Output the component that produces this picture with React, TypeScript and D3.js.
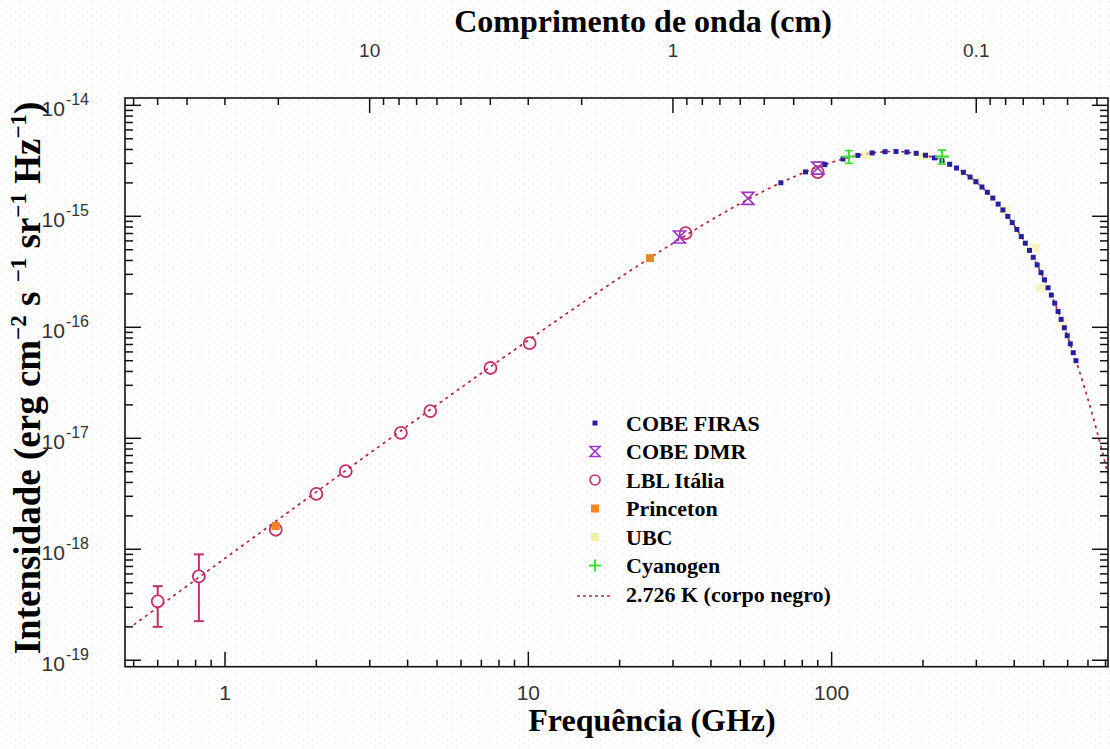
import React from 'react';
import * as d3 from 'd3';

// frequency in GHz, intensity in erg cm^-2 s^-1 sr^-1 Hz^-1
const firasFreq = [68, 82, 95, 109, 122, 136, 150, 163, 177, 190, 204, 218, 231, 245, 258, 272, 286, 299, 313, 326, 340, 354, 367, 381, 394, 408, 422, 435, 449, 462, 476, 490, 503, 517, 530, 544, 558, 571, 585, 598, 612, 626, 639];
const firasInt = [2.006e-15, 2.512e-15, 2.922e-15, 3.284e-15, 3.538e-15, 3.724e-15, 3.820e-15, 3.839e-15, 3.792e-15, 3.696e-15, 3.547e-15, 3.362e-15, 3.168e-15, 2.943e-15, 2.725e-15, 2.490e-15, 2.258e-15, 2.050e-15, 1.836e-15, 1.648e-15, 1.461e-15, 1.288e-15, 1.141e-15, 9.98e-16, 8.77e-16, 7.61e-16, 6.58e-16, 5.73e-16, 4.93e-16, 4.27e-16, 3.65e-16, 3.11e-16, 2.68e-16, 2.27e-16, 1.95e-16, 1.65e-16, 1.39e-16, 1.18e-16, 9.9e-17, 8.4e-17, 7.1e-17, 5.9e-17, 5.0e-17];

const dmrFreq = [31.5, 53, 90];
const dmrInt = [6.5e-16, 1.45e-15, 2.72e-15];

const lblFreq = [0.6, 0.82, 1.47, 2.0, 2.5, 3.8, 4.75, 7.5, 10.1, 33, 90];
const lblInt = [3.4e-19, 5.7e-19, 1.5e-18, 3.15e-18, 5.05e-18, 1.12e-17, 1.76e-17, 4.3e-17, 7.2e-17, 7.05e-16, 2.5e-15];
const lblLow = [2.0e-19, 2.25e-19, 1.5e-18, 3.15e-18, 5.05e-18, 1.12e-17, 1.76e-17, 4.3e-17, 7.2e-17, 7.05e-16, 2.5e-15];
const lblHigh = [4.65e-19, 9.0e-19, 1.5e-18, 3.15e-18, 5.05e-18, 1.12e-17, 1.76e-17, 4.3e-17, 7.2e-17, 7.05e-16, 2.5e-15];

const princetonFreq = [1.47, 25.2];
const princetonInt = [1.62e-18, 4.2e-16];

const ubcFreq = [130, 200, 300, 370, 468, 488, 580];
const ubcInt = [3.55e-15, 3.5e-15, 2.1e-15, 1.15e-15, 5.2e-16, 2.25e-16, 1.1e-16];

const cyanFreq = [114, 231];
const cyanInt = [3.45e-15, 3.45e-15];
const cyanErr = [4.5e-16, 5.0e-16];

// 2.726 K blackbody
const bbFreq = [0.5, 0.6, 0.8, 1, 1.5, 2, 3, 5, 7, 10, 15, 20, 30, 40, 50, 70, 100, 130, 160, 200, 250, 300, 350, 400, 450, 500, 550, 600, 650, 700, 750, 815];
const bbInt = [2.085e-19, 2.999e-19, 5.322e-19, 8.301e-19, 1.860e-18, 3.291e-18, 7.340e-18, 2.003e-17, 3.856e-17, 7.660e-17, 1.647e-16, 2.795e-16, 5.721e-16, 9.231e-16, 1.306e-15, 2.082e-15, 3.061e-15, 3.655e-15, 3.841e-15, 3.594e-15, 2.859e-15, 2.034e-15, 1.336e-15, 8.254e-16, 4.875e-16, 2.771e-16, 1.530e-16, 8.238e-17, 4.344e-17, 2.249e-17, 1.145e-17, 4.686e-18];

const freqLabels = [1, 10, 100];
const waveLabels = [10, 1, 0.1];
const yExponents = [-14, -15, -16, -17, -18, -19];

const legendItems = ['COBE FIRAS', 'COBE DMR', 'LBL Itália', 'Princeton', 'UBC', 'Cyanogen', '2.726 K (corpo negro)'];

const C_GHZ_CM = 29.9792458;

const serif = '"Liberation Serif", "Times New Roman", serif';
const sans = '"Liberation Sans", Arial, sans-serif';

const colors = {
  firas: '#24209e',
  dmr: '#9b36c8',
  lbl: '#c3306a',
  princeton: '#f08524',
  ubc: '#f3efa4',
  cyan: '#3ee03a',
  bb: '#b3283e',
};

function Hourglass({ x, y, s = 6 }: { x: number; y: number; s?: number }) {
  return (
    <path
      d={`M${x - s},${y - s}H${x + s}L${x - s},${y + s}H${x + s}Z`}
      fill="none"
      stroke={colors.dmr}
      strokeWidth={1.6}
    />
  );
}

function Plus({ x, y, s = 7 }: { x: number; y: number; s?: number }) {
  return (
    <path d={`M${x - s},${y}H${x + s}M${x},${y - s}V${y + s}`} stroke={colors.cyan} strokeWidth={2.2} />
  );
}

export default function App() {
  const left = 125, right = 1108, top = 98, bottom = 666.7;

  const x = d3.scaleLog().domain([0.468, 815]).range([left, right]);
  const y = d3.scaleLog().domain([8.75e-20, 1.164e-14]).range([bottom, top]);
  const lam = d3.scaleLog().domain([C_GHZ_CM / 0.468, C_GHZ_CM / 815]).range([left, right]);

  const isPow10 = (v: number) => Math.abs(Math.log10(v) - Math.round(Math.log10(v))) < 1e-6;

  const line = d3
    .line<number>()
    .x((_, i) => x(bbFreq[i]))
    .y((d) => y(d))
    .curve(d3.curveMonotoneX);

  const xTicks = x.ticks();
  const yTicks = y.ticks().filter((v) => v >= 9.5e-20);
  const lamTicks = lam.ticks();

  const legX = 595, legText = 626, legY0 = 423, legStep = 28.5;

  return (
    <svg
      width={1110}
      height={749}
      style={{ position: 'absolute', left: 0, top: 0, background: '#fff' }}
    >
      <defs>
        <pattern id="dots" width="9" height="7" patternUnits="userSpaceOnUse">
          <circle cx="2" cy="2" r="0.7" fill="#f0bcd4" />
          <circle cx="6.5" cy="5.5" r="0.6" fill="#f4d2e2" />
        </pattern>
        <clipPath id="plot">
          <rect x={left} y={top} width={right - left} height={bottom - top} />
        </clipPath>
      </defs>
      <rect x={0} y={0} width={1110} height={749} fill="url(#dots)" opacity={0.75} />

      {/* blackbody curve */}
      <g clipPath="url(#plot)">
        <path d={line(bbInt) || ''} fill="none" stroke={colors.bb} strokeWidth={1.7} strokeDasharray="3 4" />
      </g>

      {/* UBC */}
      {ubcFreq.map((f, i) => (
        <rect key={'u' + i} x={x(f) - 5} y={y(ubcInt[i]) - 4} width={10} height={8} fill={colors.ubc} opacity={0.6} />
      ))}

      {/* LBL */}
      {lblFreq.map((f, i) => {
        const cx = x(f), cy = y(lblInt[i]);
        const y1 = y(lblHigh[i]), y2 = y(lblLow[i]);
        const hasBar = lblHigh[i] > lblInt[i];
        return (
          <g key={'l' + i} stroke={colors.lbl} strokeWidth={2} fill="none">
            {hasBar && (
              <>
                <line x1={cx} x2={cx} y1={y1} y2={cy - 6} />
                <line x1={cx} x2={cx} y1={cy + 6} y2={y2} />
                <line x1={cx - 5} x2={cx + 5} y1={y1} y2={y1} />
                <line x1={cx - 5} x2={cx + 5} y1={y2} y2={y2} />
              </>
            )}
            <circle cx={cx} cy={cy} r={6} strokeWidth={1.8} />
          </g>
        );
      })}

      {/* Princeton */}
      {princetonFreq.map((f, i) => (
        <rect key={'p' + i} x={x(f) - 4} y={y(princetonInt[i]) - 4} width={8} height={8} fill={colors.princeton} />
      ))}

      {/* COBE DMR */}
      {dmrFreq.map((f, i) => (
        <Hourglass key={'d' + i} x={x(f)} y={y(dmrInt[i])} />
      ))}

      {/* COBE FIRAS */}
      {firasFreq.map((f, i) => (
        <rect key={'f' + i} x={x(f) - 2.5} y={y(firasInt[i]) - 2.5} width={5} height={5} fill={colors.firas} />
      ))}

      {/* Cyanogen */}
      {cyanFreq.map((f, i) => {
        const cx = x(f), cy = y(cyanInt[i]);
        const y1 = y(cyanInt[i] + cyanErr[i]), y2 = y(cyanInt[i] - cyanErr[i]);
        return (
          <g key={'c' + i}>
            <path
              d={`M${cx},${y1}V${y2}M${cx - 4},${y1}H${cx + 4}M${cx - 4},${y2}H${cx + 4}`}
              stroke={colors.cyan}
              strokeWidth={1.6}
            />
            <Plus x={cx} y={cy} />
          </g>
        );
      })}

      {/* frame */}
      <rect x={left} y={top} width={right - left} height={bottom - top} fill="none" stroke="#111" strokeWidth={1.6} />

      {/* bottom ticks */}
      {xTicks.map((t, i) => {
        const len = isPow10(t) ? 15 : 7;
        return <line key={'xt' + i} x1={x(t)} x2={x(t)} y1={bottom} y2={bottom - len} stroke="#111" strokeWidth={1.5} />;
      })}
      {freqLabels.map((t) => (
        <text key={'xl' + t} x={x(t)} y={700} textAnchor="middle" fontFamily={sans} fontSize={21} fill="#333">
          {t}
        </text>
      ))}

      {/* top ticks (wavelength) */}
      {lamTicks.map((t, i) => {
        const len = isPow10(t) ? 15 : 7;
        return <line key={'lt' + i} x1={lam(t)} x2={lam(t)} y1={top} y2={top + len} stroke="#111" strokeWidth={1.5} />;
      })}
      {waveLabels.map((t) => (
        <text key={'ll' + t} x={lam(t)} y={57} textAnchor="middle" fontFamily={sans} fontSize={19} fill="#333">
          {t}
        </text>
      ))}

      {/* left and right ticks */}
      {yTicks.map((t, i) => {
        const len = isPow10(t) ? 16 : 8;
        return (
          <g key={'yt' + i} stroke="#111" strokeWidth={1.5}>
            <line x1={left} x2={left + len} y1={y(t)} y2={y(t)} />
            <line x1={right} x2={right - len} y1={y(t)} y2={y(t)} />
          </g>
        );
      })}
      {yExponents.map((e) => (
        <text key={'yl' + e} x={89} y={y(Math.pow(10, e)) + 11} textAnchor="end" fontFamily={sans} fontSize={21} fill="#333">
          10
          <tspan dx={1} dy={-11} fontSize={16}>
            {'-' + Math.abs(e)}
          </tspan>
        </text>
      ))}

      {/* titles */}
      <text x={643} y={32} textAnchor="middle" fontFamily={serif} fontWeight="bold" fontSize={32} fill="#000">
        Comprimento de onda (cm)
      </text>
      <text x={652} y={731} textAnchor="middle" fontFamily={serif} fontWeight="bold" fontSize={32} fill="#000">
        Frequência (GHz)
      </text>
      <text transform="translate(40,378) rotate(-90)" textAnchor="middle" fontFamily={serif} fontWeight="bold" fontSize={37} fill="#000">
        Intensidade (erg cm
        <tspan dy={-14} fontSize={23}>−2</tspan>
        <tspan dy={14}> s </tspan>
        <tspan dy={-14} fontSize={23}>−1</tspan>
        <tspan dy={14}> sr</tspan>
        <tspan dy={-14} fontSize={23}>−1</tspan>
        <tspan dy={14}> Hz</tspan>
        <tspan dy={-14} fontSize={23}>−1</tspan>
        <tspan dy={14}>)</tspan>
      </text>

      {/* legend */}
      {legendItems.map((label, i) => {
        const ly = legY0 + i * legStep;
        let marker: React.ReactNode = null;
        if (i === 0) marker = <rect x={legX - 2.5} y={ly - 2.5} width={5} height={5} fill={colors.firas} />;
        if (i === 1) marker = <Hourglass x={legX} y={ly} s={5} />;
        if (i === 2) marker = <circle cx={legX} cy={ly} r={5} fill="none" stroke={colors.lbl} strokeWidth={1.6} />;
        if (i === 3) marker = <rect x={legX - 4} y={ly - 4} width={8} height={8} fill={colors.princeton} />;
        if (i === 4) marker = <rect x={legX - 4} y={ly - 4} width={8} height={8} fill={colors.ubc} />;
        if (i === 5) marker = <Plus x={legX} y={ly} s={6} />;
        if (i === 6)
          marker = (
            <line x1={577} x2={611} y1={ly + 2} y2={ly + 2} stroke={colors.bb} strokeWidth={1.7} strokeDasharray="3 3" />
          );
        return (
          <g key={'lg' + i}>
            {marker}
            <text x={legText} y={ly + 7.5} fontFamily={serif} fontWeight="bold" fontSize={22} fill="#000">
              {label}
            </text>
          </g>
        );
      })}
    </svg>
  );
}
